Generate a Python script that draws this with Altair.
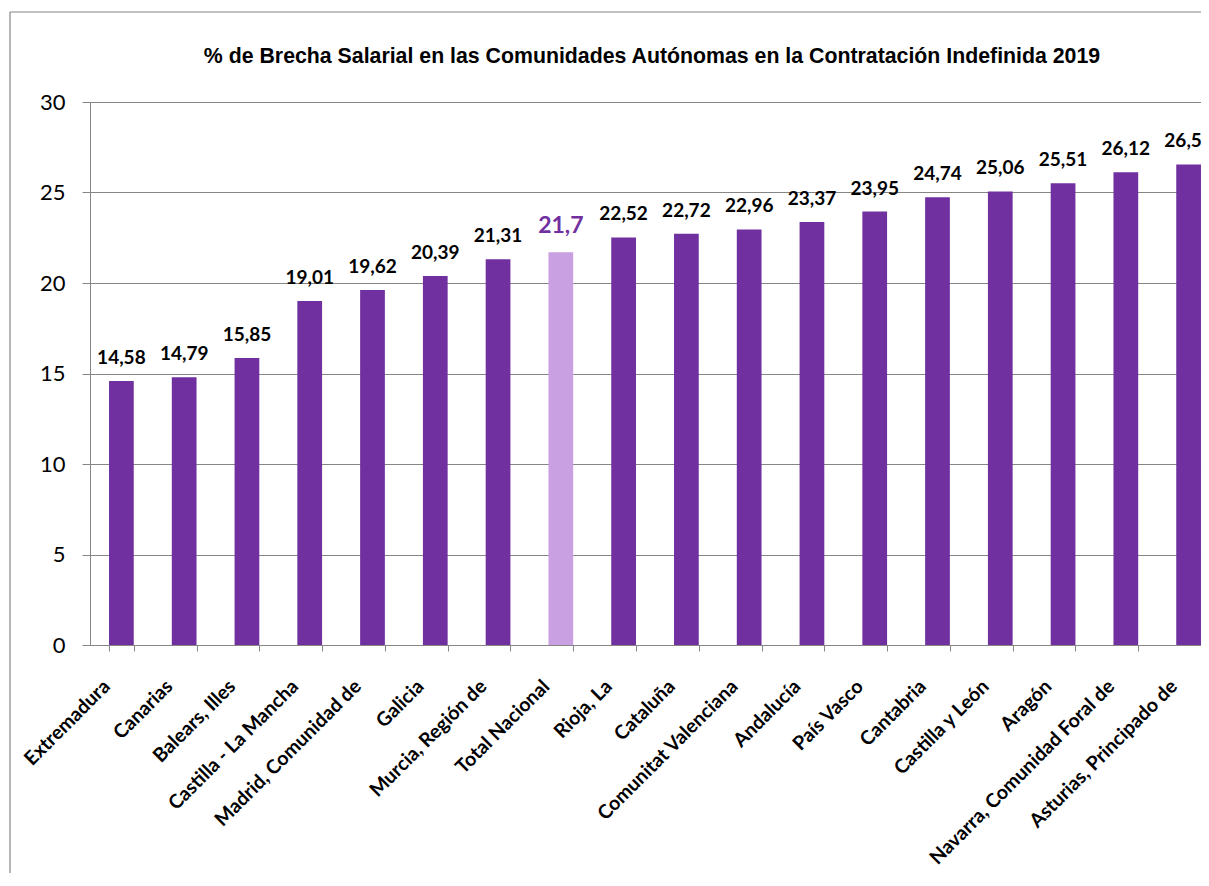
import altair as alt
import pandas as pd

regions = ["Extremadura", "Canarias", "Balears, Illes", "Castilla - La Mancha",
           "Madrid, Comunidad de", "Galicia", "Murcia, Región de", "Total Nacional",
           "Rioja, La", "Cataluña", "Comunitat Valenciana", "Andalucía", "País Vasco",
           "Cantabria", "Castilla y León", "Aragón", "Navarra, Comunidad Foral de",
           "Asturias, Principado de"]
values = [14.58, 14.79, 15.85, 19.01, 19.62, 20.39, 21.31, 21.7, 22.52, 22.72,
          22.96, 23.37, 23.95, 24.74, 25.06, 25.51, 26.12, 26.55]
y_ticks = [0, 5, 10, 15, 20, 25, 30]
title_text = "% de Brecha Salarial en las Comunidades Autónomas en la Contratación Indefinida 2019"

df = pd.DataFrame({"region": regions, "value": values})

W, H = 1111, 543
GRAY = "#868686"

xenc = alt.X("region:N", sort=regions, title=None,
             scale=alt.Scale(range=[0, 1130], paddingInner=0.606, paddingOuter=0.303),
             axis=alt.Axis(labelAngle=-45, labelAlign="right", labelBaseline="middle",
                           labelFont="Lato", labelFontSize=19.5, labelFontWeight="bold",
                           labelColor="black", labelLimit=400, labelOverlap=False,
                           labelFlush=False, labelPadding=32, labelOffset=-15,
                           tickBand="extent", tickSize=6, tickColor=GRAY,
                           domainColor=GRAY, grid=False))
yenc = alt.Y("value:Q", title=None,
             scale=alt.Scale(domain=[0, 30], nice=False),
             axis=alt.Axis(values=y_ticks, labelFont="Lato", labelFontSize=22,
                           labelColor="black", labelPadding=17, tickSize=8,
                           tickColor=GRAY, domainColor=GRAY, gridColor=GRAY,
                           grid=True))

base = alt.Chart(df)

bars = base.mark_bar().encode(
    x=xenc, y=yenc,
    color=alt.condition(alt.datum.region == "Total Nacional",
                        alt.value("#C9A0E1"), alt.value("#7030A0")),
)

labels = base.transform_filter(alt.datum.region != "Total Nacional").transform_calculate(
    label="replace(toString(datum.value), '.', ',')"
).mark_text(font="Lato", fontSize=19, fontWeight="bold", baseline="alphabetic",
            dy=-17, color="black").encode(
    x=alt.X("region:N", sort=regions), y="value:Q", text="label:N")

total_label = base.transform_filter(alt.datum.region == "Total Nacional").transform_calculate(
    label="replace(toString(datum.value), '.', ',')"
).mark_text(font="Lato", fontSize=23, fontWeight="bold", baseline="alphabetic",
            dy=-19, color="#7030A0").encode(
    x=alt.X("region:N", sort=regions), y="value:Q", text="label:N")

one = alt.Data(values=[{}])
frame_left = alt.Chart(one).mark_rule(color=GRAY, strokeWidth=1.2).encode(
    x=alt.value(-80), y=alt.value(-90), y2=alt.value(771))
frame_top = alt.Chart(one).mark_rule(color=GRAY, strokeWidth=1.2).encode(
    x=alt.value(-80), x2=alt.value(1111), y=alt.value(-90), y2=alt.value(-90))
title = alt.Chart(one).mark_text(
    text=title_text, font="Liberation Sans", fontSize=21.3, fontWeight="bold",
    color="black", baseline="alphabetic", align="center").encode(
    x=alt.value(562), y=alt.value(-39))

chart = alt.layer(frame_left, frame_top, title, bars, labels, total_label).properties(
    width=W, height=H,
    autosize=alt.AutoSizeParams(type="none"),
    padding={"left": 82, "top": 94, "right": 0, "bottom": 228},
).configure_view(strokeWidth=0, stroke="transparent").configure(background="white")

chart.save("out.html", embed_options={"renderer": "svg", "actions": False})
